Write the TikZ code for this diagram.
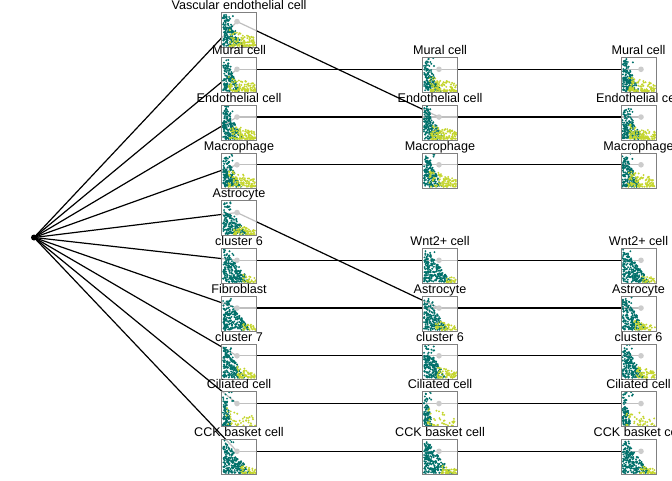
\documentclass[tikz,border=0pt]{standalone}
\usepackage{fontspec}
\setmainfont{Liberation Sans}
\definecolor{tealc}{HTML}{00706A}
\definecolor{yelc}{HTML}{C5D62E}
\definecolor{dotc}{HTML}{CCCCCC}
\definecolor{boxc}{HTML}{808080}
\newcommand{\thumbpts}[8]{%
 \begin{scope}[shift={(#1-17.5,#2-17.5)}]
  \fill[white,opacity=0.75] (0,0) rectangle (35,35);
  \begin{scope}
   \clip (0,0) rectangle (35,35);
   \pgfmathsetseed{#3}
   \foreach \i in {1,...,#4}{
     \pgfmathsetmacro\tq{1-sqrt(rnd)}
     \pgfmathsetmacro\ptx{1.5+rnd*((1-\tq)*#5+3)}
     \pgfmathsetmacro\pty{34-\tq*32}
     \fill[tealc] (\ptx,\pty) circle (1.05);
   }
   \foreach \i in {1,...,7}{
     \pgfmathsetmacro\ptx{2+rnd*10}
     \pgfmathsetmacro\pty{0.5+rnd*9}
     \fill[tealc] (\ptx,\pty) circle (1.05);
   }
   \foreach \i in {1,...,#6}{
     \pgfmathsetmacro\ptx{#8+rnd*(34-#8)}
     \pgfmathsetmacro\pty{34-pow(rnd,1.6)*#7*(1-0.5*(\ptx-#8)/(34-#8))}
     \fill[yelc] (\ptx,\pty) circle (1.05);
   }
  \end{scope}
 \end{scope}}
\tikzset{
 edge/.style={draw=black,line width=1.2pt},
 thumbbox/.style={draw=boxc,line width=0.6pt,minimum size=35pt,inner sep=0pt},
 lab/.style={font=\fontsize{12.6}{14}\selectfont,inner sep=0pt,anchor=base},
 rootdot/.style={circle,fill=black,inner sep=0pt,minimum size=6pt}
}
\begin{document}
\begin{tikzpicture}[x=1pt,y=-1pt]
\useasboundingbox (0,0) rectangle (672,480);
\node[rootdot] (root) at (34,237.5) {};
% dot coordinates
\foreach \r/\yy in {0/21.55,1/69.3,2/117.05,3/164.8,4/212.55,5/260.3,6/308.05,7/355.8,8/403.55,9/451.3}{
  \coordinate (d-a\r) at (237,\yy);
  \coordinate (d-b\r) at (439,\yy);
  \coordinate (d-c\r) at (641,\yy);
}
% edges
\foreach \r in {0,...,9}{ \draw[edge] (root.center) -- (d-a\r); }
\foreach \p/\q in {0/2,1/1,2/2,3/3,4/6,5/5,6/6,7/7,8/8,9/9}{ \draw[edge] (d-a\p) -- (d-b\q); }
\foreach \q in {1,2,3,5,6,7,8,9}{ \draw[edge] (d-b\q) -- (d-c\q); }
% thumbnails
\foreach \id/\cx/\cy/\lab/\s/\nt/\tw/\ny/\yh/\yx in {
 a0/239/29.5/Vascular endothelial cell/11/170/18/110/16/8,
 a1/239/74.8/Mural cell/12/150/14/100/15/7,
 a2/239/122.55/Endothelial cell/13/180/17/110/15/8,
 a3/239/170.3/Macrophage/14/170/15/100/17/7,
 a4/239/218.05/Astrocyte/15/170/21/60/10/11,
 a5/239/265.8/cluster 6/16/210/25/25/8/21,
 a6/239/313.55/Fibroblast/17/210/25/25/8/21,
 a7/239/361.3/cluster 7/18/170/19/60/12/15,
 a8/239/409.05/Ciliated cell/19/90/5/40/18/5,
 a9/239/456.8/CCK basket cell/20/210/25/40/8/19,
 b1/440/74.8/Mural cell/21/150/14/100/15/7,
 b2/440/122.55/Endothelial cell/22/180/17/110/15/8,
 b3/440/170.3/Macrophage/23/170/15/100/17/7,
 b5/440/265.8/Wnt2+ cell/24/210/25/25/8/21,
 b6/440/313.55/Astrocyte/25/180/21/50/10/13,
 b7/440/361.3/cluster 6/26/180/19/60/12/15,
 b8/440/409.05/Ciliated cell/27/90/5/40/18/5,
 b9/440/456.8/CCK basket cell/28/210/25/40/8/19,
 c1/638.5/74.8/Mural cell/31/150/14/100/15/7,
 c2/638.5/122.55/Endothelial cell/32/180/17/110/15/8,
 c3/638.5/170.3/Macrophage/33/170/15/100/17/7,
 c5/638.5/265.8/Wnt2+ cell/34/210/25/25/8/21,
 c6/638.5/313.55/Astrocyte/35/180/21/50/10/13,
 c7/638.5/361.3/cluster 6/36/180/19/60/12/15,
 c8/638.5/409.05/Ciliated cell/37/90/5/40/18/5,
 c9/638.5/456.8/CCK basket cell/38/210/25/40/8/19}{
  \thumbpts{\cx}{\cy}{\s}{\nt}{\tw}{\ny}{\yh}{\yx}
  \node[thumbbox] (b-\id) at (\cx,\cy) {};
  \fill[dotc] (d-\id) circle (2.8);
  \node[lab] (l-\id) at (\cx,\cy-20.3) {\lab};
}
\end{tikzpicture}
\end{document}
